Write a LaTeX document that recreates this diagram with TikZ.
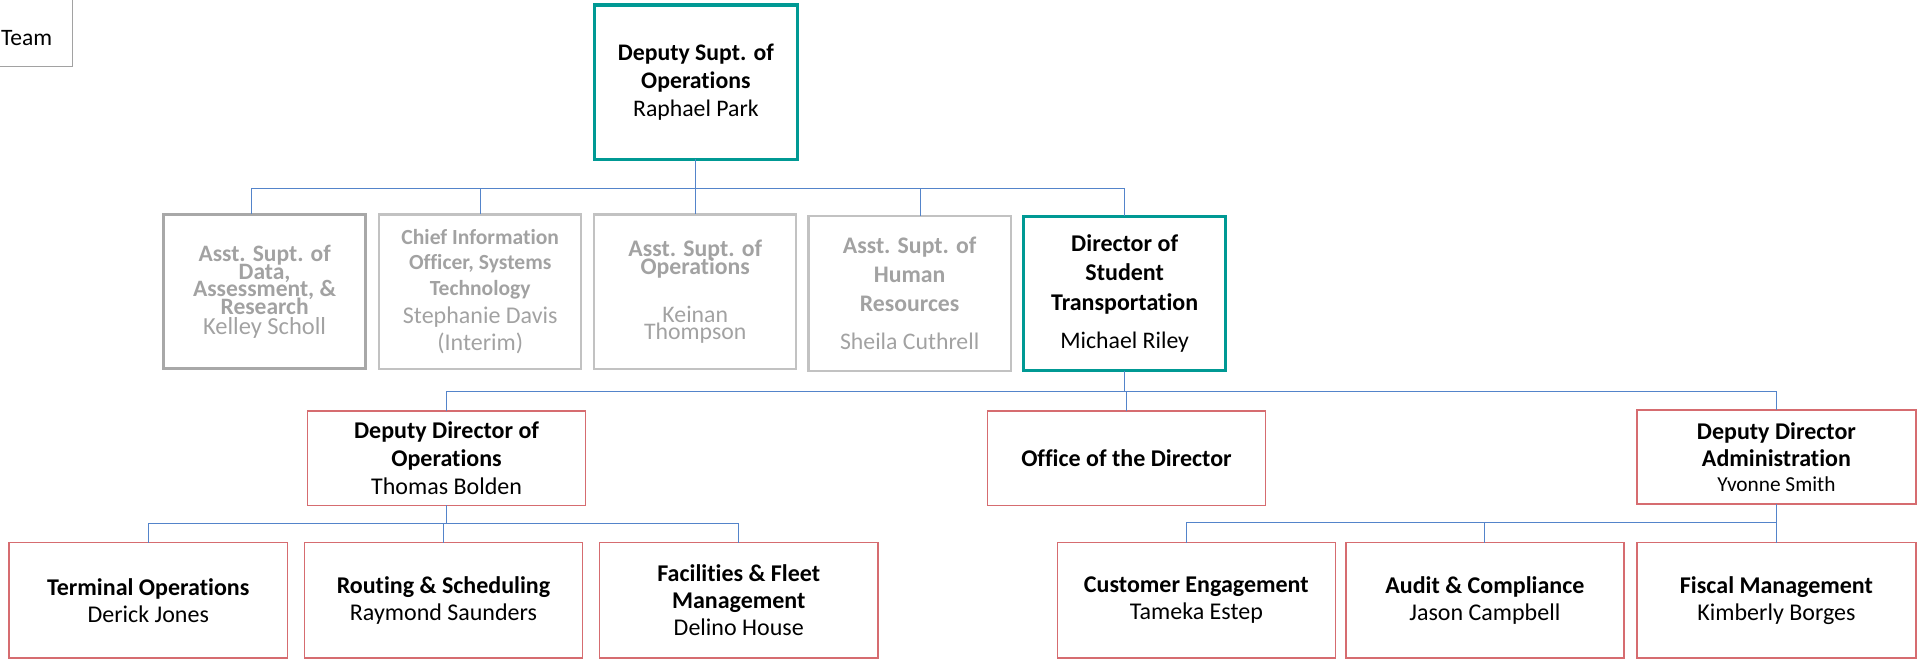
\documentclass[tikz,border=0pt]{standalone}
\usepackage{fontspec}
\setmainfont{Carlito}[Ligatures=NoCommon]
\usepackage{tikz}
\usepackage{xcolor}
\usetikzlibrary{positioning,calc}
\definecolor{lagoon}{RGB}{0,153,148}
\definecolor{rosered}{RGB}{214,108,112}
\definecolor{wireblue}{RGB}{84,132,202}
\definecolor{ashgray}{RGB}{168,168,168}
\definecolor{silvergray}{RGB}{194,194,194}
\definecolor{fadetext}{RGB}{162,162,162}
\lineskiplimit=-20pt

\tikzset{
  orgbox/.style={draw, rectangle, align=center, inner sep=0pt, outer sep=0pt},
  lead/.style={orgbox, draw=lagoon, line width=1.35pt, minimum width=83pt, minimum height=63pt},
  vacant/.style={orgbox, draw=silvergray, line width=0.9pt, text=fadetext, minimum width=82.5pt, minimum height=63pt},
  unit/.style={orgbox, draw=rosered, line width=0.6pt, minimum width=113.5pt, minimum height=38.5pt, font=\fontsize{9.8}{11.25}\selectfont},
  leaf/.style={unit, minimum height=47pt, font=\fontsize{9.8}{11}\selectfont},
  link/.style={draw=wireblue, line width=0.45pt}
}

\begin{document}
\begin{tikzpicture}[x=0.5pt, y=-0.5pt]
\useasboundingbox (0,0) rectangle (1568,538);

% cut-off box at the corner
\node[orgbox, draw=fadetext, line width=0.5pt, anchor=south east, minimum width=80pt, minimum height=50pt] (team) at (59,54.5) {};
\node[anchor=base west, inner sep=0pt, font=\fontsize{9.6}{11.3}\selectfont] (teamtext) at (0.5,37.5) {Team};

% top
\node[lead, font=\fontsize{9.7}{11.3}\selectfont] (top) at (568,67) {\textbf{Deputy Supt. of}\\\textbf{Operations}\\Raphael Park};

% second row
\node[vacant, draw=ashgray, line width=1.1pt, font=\fontsize{9.6}{7.3}\selectfont] (dsa) at (216,238)
  {\textbf{Asst. Supt. of}\\\textbf{Data,}\\\textbf{Assessment, \&}\\\textbf{Research}\\[0.7pt]{\fontsize{10}{8}\selectfont Kelley Scholl}};
\node[vacant, font=\fontsize{8.8}{10.5}\selectfont] (cio) at (392,238)
  {\textbf{Chief Information}\\\textbf{Officer, Systems}\\\textbf{Technology}\\[1pt]{\fontsize{9.8}{11}\selectfont Stephanie Davis}\\[0.5pt]{\fontsize{9.8}{11}\selectfont (Interim)}};
\node[vacant, font=\fontsize{9.7}{7.5}\selectfont] (aso) at (567.5,238)
  {\textbf{Asst. Supt. of}\\\textbf{Operations}\\[12pt]{\fontsize{9.7}{7}\selectfont Keinan}\\[-0.5pt]{\fontsize{9.7}{7}\selectfont Thompson}};
\node[vacant, font=\fontsize{9.7}{11.8}\selectfont] (ahr) at (742.5,239.5)
  {\textbf{Asst. Supt. of}\\\textbf{Human}\\\textbf{Resources}\\[3.8pt]{\fontsize{9.7}{11}\selectfont Sheila Cuthrell}};
\node[lead, minimum width=82.5pt, font=\fontsize{9.8}{12}\selectfont] (dst) at (918,239.5)
  {\textbf{Director of}\\\textbf{Student}\\\textbf{Transportation}\\[3.5pt]{\fontsize{9.7}{11}\selectfont Michael Riley}};

% third row
\node[unit] (ddo) at (364.5,374) {\textbf{Deputy Director of}\\\textbf{Operations}\\Thomas Bolden};
\node[unit] (odir) at (919.5,374) {\textbf{Office of the Director}};
\node[unit, minimum width=114pt, font=\fontsize{9.8}{11}\selectfont] (dda) at (1450,373)
  {\textbf{Deputy Director}\\\textbf{Administration}\\[-1pt]{\fontsize{8.7}{10}\selectfont Yvonne Smith}};

% bottom row
\node[leaf] (term) at (121,490) {\textbf{Terminal Operations}\\Derick Jones};
\node[leaf] (rout) at (362,490) {\textbf{Routing \& Scheduling}\\Raymond Saunders};
\node[leaf] (fac) at (603,490) {\textbf{Facilities \& Fleet}\\\textbf{Management}\\Delino House};
\node[leaf] (cust) at (976.5,490) {\textbf{Customer Engagement}\\Tameka Estep};
\node[leaf] (audit) at (1212,490) {\textbf{Audit \& Compliance}\\Jason Campbell};
\node[leaf, minimum width=114pt] (fisc) at (1450,490) {\textbf{Fiscal Management}\\Kimberly Borges};

% reporting lines
\draw[link] (top.south) -- ++(0,24) -| ([xshift=-5.5pt]dsa.north);
\draw[link] (top.south) -- ++(0,24) -| (cio.north);
\draw[link] (top.south) -- ++(0,24) -| (aso.north);
\draw[link] (top.south) -- ++(0,24) -| ([xshift=4.5pt]ahr.north);
\draw[link] (top.south) -- ++(0,24) -| (dst.north);

\draw[link] (dst.south) -- ++(0,17) -| (ddo.north);
\draw[link] (dst.south) -- ++(0,17) -| (odir.north);
\draw[link] (dst.south) -- ++(0,17) -| (dda.north);

\draw[link] (ddo.south) -- ++(0,15) -| (term.north);
\draw[link] (ddo.south) -- ++(0,15) -| (rout.north);
\draw[link] (ddo.south) -- ++(0,15) -| (fac.north);

\draw[link] (dda.south) -- ++(0,15) -| ([xshift=-4pt]cust.north);
\draw[link] (dda.south) -- ++(0,15) -| (audit.north);
\draw[link] (dda.south) -- ++(0,15) -| (fisc.north);
\end{tikzpicture}
\end{document}
